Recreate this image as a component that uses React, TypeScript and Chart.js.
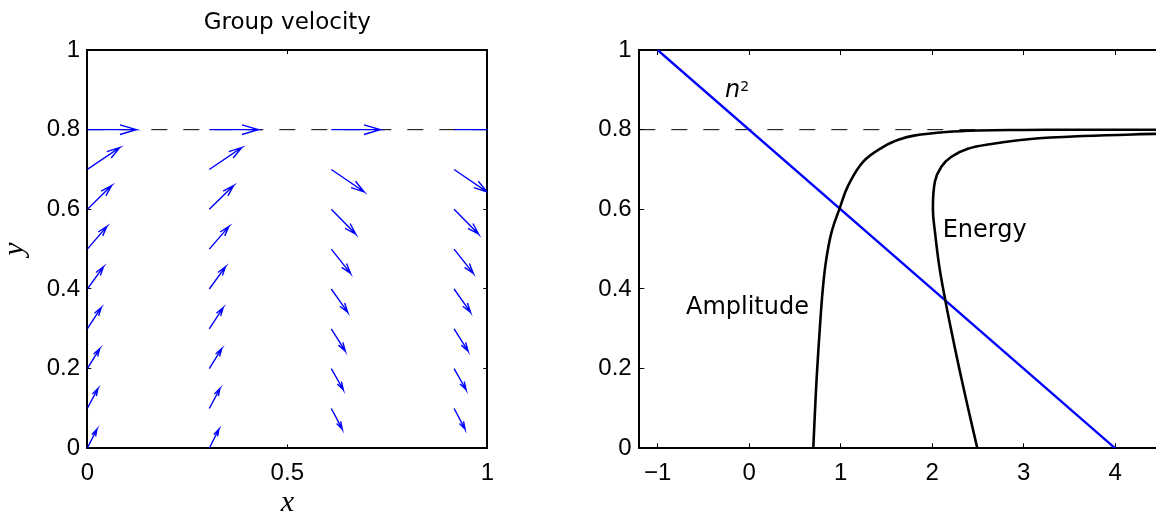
import React, { useEffect, useRef } from 'react';
import { Chart, registerables } from 'chart.js';

Chart.register(...registerables);

// ---------------- Data: left panel (group velocity quiver) ----------------
const COLUMN_X = [0, 0.305, 0.61, 0.917];
const ROW_Y = [0, 0.1, 0.2, 0.3, 0.4, 0.5, 0.6, 0.7, 0.8];
// velocity components per row (null = no arrow drawn)
const U_RISING = [0.024, 0.0265, 0.031, 0.0345, 0.0405, 0.049, 0.0605, 0.081, 0.122];
const V_RISING = [0.048, 0.05, 0.05, 0.053, 0.056, 0.057, 0.0595, 0.055, 0];
const U_SINKING = [null, 0.0275, 0.03, 0.035, 0.041, 0.048, 0.061, 0.082, 0.122];
const V_SINKING = [null, -0.052, -0.053, -0.056, -0.0585, -0.061, -0.062, -0.056, 0];
const COLUMN_U = [U_RISING, U_RISING, U_SINKING, U_SINKING];
const COLUMN_V = [V_RISING, V_RISING, V_SINKING, V_SINKING];
const CUTOFF_Y = 0.8;

const LEFT_X_TICKS = [0, 0.5, 1];
const LEFT_Y_TICKS = [0, 0.2, 0.4, 0.6, 0.8, 1];

// ---------------- Data: right panel ----------------
const N2_X = [-1, 4];
const N2_Y = [1, 0];
const AMP_X = [0.701, 0.727, 0.744, 0.772, 0.805, 0.84, 0.9, 0.99, 1.083, 1.247, 1.466, 1.648, 1.8, 2.15, 2.5, 3.0, 3.5, 4.5];
const AMP_Y = [0, 0.13, 0.2, 0.3, 0.4, 0.47, 0.542, 0.603, 0.66, 0.72, 0.757, 0.776, 0.785, 0.794, 0.798, 0.7993, 0.7997, 0.7999];
const ENERGY_X = [2.493, 2.393, 2.296, 2.205, 2.143, 2.078, 2.032, 2.008, 2.03, 2.1, 2.21, 2.39, 2.65, 3.05, 3.65, 4.5];
const ENERGY_Y = [0, 0.1, 0.2, 0.3, 0.372, 0.456, 0.54, 0.6, 0.67, 0.707, 0.732, 0.752, 0.764, 0.776, 0.784, 0.79];
const RIGHT_X_RANGE = [-1.2, 4.5];
const RIGHT_X_TICKS = [-1, 0, 1, 2, 3, 4];
const RIGHT_LABELS = [
  { text: 'Amplitude', x: -0.69, y: 0.337 },
  { text: 'Energy', x: 2.115, y: 0.531 },
];
const N2_LABEL = { x: -0.264, y: 0.883 };

// ---------------- Styling ----------------
const BLUE = '#0000ff';
const BLACK = '#000000';
const TICK_FONT = { family: 'Liberation Sans', size: 24 };
const TEXT_FONT = 'DejaVu Sans';
const HEAD_LEN = 0.33;
const HEAD_WIDTH = 0.3;

const fmt = (v: number) => String(Math.round(v * 1000) / 1000).replace('-', '\u2212');

function arrowPoints(x0: number, y0: number, u: number, v: number) {
  const hx = x0 + u;
  const hy = y0 + v;
  return [
    { x: x0, y: y0 },
    { x: hx, y: hy },
    { x: hx - HEAD_LEN * (u + HEAD_WIDTH * v), y: hy - HEAD_LEN * (v - HEAD_WIDTH * u) },
    { x: hx, y: hy },
    { x: hx - HEAD_LEN * (u - HEAD_WIDTH * v), y: hy - HEAD_LEN * (v + HEAD_WIDTH * u) },
  ];
}

function boxAxes(opts: {
  min: number; max: number; ymin: number; ymax: number;
  xTicks: number[]; yTicks: number[]; tickLen: number;
  yAxisWidth: number; xAxisHeight: number;
  xPad: number; yPad: number; xTitle?: string; yTitle?: string;
}) {
  const grid = { drawOnChartArea: false, drawTicks: true, tickLength: -opts.tickLen, tickColor: BLACK, tickWidth: 1 };
  const border = { display: true, color: BLACK, width: 2 };
  const xAfterBuild = (s: any) => { s.ticks = opts.xTicks.map((value) => ({ value })); };
  const yAfterBuild = (s: any) => { s.ticks = opts.yTicks.map((value) => ({ value })); };
  const serif = { family: 'Liberation Serif', style: 'italic' as const, size: 30, lineHeight: 1 };
  return {
    x: {
      type: 'linear', position: 'bottom', min: opts.min, max: opts.max,
      afterBuildTicks: xAfterBuild,
      ticks: { font: TICK_FONT, color: BLACK, padding: opts.xPad, maxRotation: 0, autoSkip: false, callback: (v: any) => fmt(Number(v)) },
      grid, border,
      title: { display: !!opts.xTitle, text: opts.xTitle || '', font: serif, color: BLACK, padding: 0 },
      afterFit: (s: any) => { s.height = opts.xAxisHeight; },
    },
    x2: {
      type: 'linear', position: 'top', min: opts.min, max: opts.max,
      afterBuildTicks: xAfterBuild,
      ticks: { display: false },
      grid, border,
      afterFit: (s: any) => { s.height = 0; },
    },
    y: {
      type: 'linear', position: 'left', min: opts.ymin, max: opts.ymax,
      afterBuildTicks: yAfterBuild,
      ticks: { font: TICK_FONT, color: BLACK, padding: opts.yPad, autoSkip: false, callback: (v: any) => fmt(Number(v)) },
      grid, border,
      title: { display: !!opts.yTitle, text: opts.yTitle || '', font: serif, color: BLACK, padding: 0 },
      afterFit: (s: any) => { s.width = opts.yAxisWidth; },
    },
    y2: {
      type: 'linear', position: 'right', min: opts.ymin, max: opts.ymax,
      afterBuildTicks: yAfterBuild,
      ticks: { display: false },
      grid, border,
      afterFit: (s: any) => { s.width = 0; },
    },
  };
}

const textPlugin = {
  id: 'panelText',
  afterDatasetsDraw(chart: any, _args: any, opts: any) {
    if (!opts || !opts.labels) return;
    const { ctx, scales } = chart;
    const xs = scales.x;
    const ys = scales.y;
    ctx.save();
    ctx.fillStyle = BLACK;
    ctx.textBaseline = 'alphabetic';
    ctx.textAlign = 'left';
    ctx.font = `24px "${TEXT_FONT}"`;
    for (const l of opts.labels) {
      ctx.fillText(l.text, xs.getPixelForValue(l.x), ys.getPixelForValue(l.y));
    }
    if (opts.n2) {
      const px = xs.getPixelForValue(opts.n2.x);
      const py = ys.getPixelForValue(opts.n2.y);
      ctx.font = `italic 24px "${TEXT_FONT}"`;
      ctx.fillText('n', px, py);
      const w = ctx.measureText('n').width;
      ctx.font = `14px "${TEXT_FONT}"`;
      ctx.fillText('2', px + w, py - 5.5);
    }
    ctx.restore();
  },
};

const LEFT_W = 530;
const RIGHT_LEFT = 560;
const RIGHT_W = 640;
const H = 518;
const PLOT_TOP = 50;
const PLOT_BOTTOM = 448.3;

function leftConfig(): any {
  const datasets: any[] = [];
  COLUMN_X.forEach((cx, ci) => {
    ROW_Y.forEach((ry, ri) => {
      const u = COLUMN_U[ci][ri];
      const v = COLUMN_V[ci][ri];
      if (u === null || v === null) return;
      datasets.push({
        data: arrowPoints(cx, ry, u, v),
        showLine: true, borderColor: BLUE, borderWidth: 1.4, pointRadius: 0, tension: 0, fill: false,
      });
    });
  });
  datasets.push({
    data: [{ x: 0, y: CUTOFF_Y }, { x: 1, y: CUTOFF_Y }],
    showLine: true, borderColor: BLACK, borderWidth: 1, borderDash: [16, 16], pointRadius: 0,
  });
  return {
    type: 'scatter',
    data: { datasets },
    options: {
      responsive: false, animation: false, events: [],
      layout: { padding: { left: 0, right: LEFT_W - 487.3, top: 0, bottom: 0 } },
      plugins: {
        legend: { display: false }, tooltip: { enabled: false },
        title: {
          display: true, text: 'Group velocity', fullSize: false, color: BLACK,
          font: { family: TEXT_FONT, size: 23, weight: 'normal', lineHeight: 1.2 },
          padding: { top: 9, bottom: PLOT_TOP - 9 - 23 * 1.2 },
        },
      },
      scales: boxAxes({
        min: 0, max: 1, ymin: 0, ymax: 1, xTicks: LEFT_X_TICKS, yTicks: LEFT_Y_TICKS, tickLen: 4,
        yAxisWidth: 87.3, xAxisHeight: H - PLOT_BOTTOM, xPad: 14.6, yPad: 11.3, xTitle: 'x', yTitle: 'y',
      }),
    },
  };
}

function rightConfig(): any {
  const pts = (xs: number[], ys: number[]) => xs.map((x, i) => ({ x, y: ys[i] }));
  return {
    type: 'scatter',
    data: {
      datasets: [
        { data: pts(AMP_X, AMP_Y), showLine: true, borderColor: BLACK, borderWidth: 2.6, pointRadius: 0, tension: 0.4 },
        { data: pts(ENERGY_X, ENERGY_Y), showLine: true, borderColor: BLACK, borderWidth: 2.6, pointRadius: 0, tension: 0.4 },
        { data: pts(N2_X, N2_Y), showLine: true, borderColor: BLUE, borderWidth: 2.4, pointRadius: 0 },
        {
          data: [{ x: RIGHT_X_RANGE[0], y: CUTOFF_Y }, { x: RIGHT_X_RANGE[1], y: CUTOFF_Y }],
          showLine: true, borderColor: BLACK, borderWidth: 1, borderDash: [16, 16], pointRadius: 0,
        },
      ],
    },
    plugins: [textPlugin],
    options: {
      responsive: false, animation: false, events: [],
      layout: { padding: { left: 0, right: RIGHT_LEFT + RIGHT_W - 1161, top: PLOT_TOP, bottom: 0 } },
      plugins: {
        legend: { display: false }, tooltip: { enabled: false },
        panelText: { labels: RIGHT_LABELS, n2: N2_LABEL },
      },
      scales: boxAxes({
        min: RIGHT_X_RANGE[0], max: RIGHT_X_RANGE[1], ymin: 0, ymax: 1, xTicks: RIGHT_X_TICKS, yTicks: LEFT_Y_TICKS, tickLen: 5,
        yAxisWidth: 639.3 - RIGHT_LEFT, xAxisHeight: H - PLOT_BOTTOM, xPad: 15.6, yPad: 12.6,
      }),
    },
  };
}

export default function App() {
  const leftRef = useRef<HTMLCanvasElement>(null);
  const rightRef = useRef<HTMLCanvasElement>(null);
  useEffect(() => {
    const c1 = new Chart(leftRef.current as HTMLCanvasElement, leftConfig());
    const c2 = new Chart(rightRef.current as HTMLCanvasElement, rightConfig());
    return () => { c1.destroy(); c2.destroy(); };
  }, []);
  return (
    <div style={{ position: 'fixed', left: 0, top: 0, width: 1156, height: H, overflow: 'hidden', background: '#fff' }}>
      <canvas ref={leftRef} width={LEFT_W} height={H} style={{ position: 'absolute', left: 0, top: 0 }} />
      <canvas ref={rightRef} width={RIGHT_W} height={H} style={{ position: 'absolute', left: RIGHT_LEFT, top: 0 }} />
    </div>
  );
}
